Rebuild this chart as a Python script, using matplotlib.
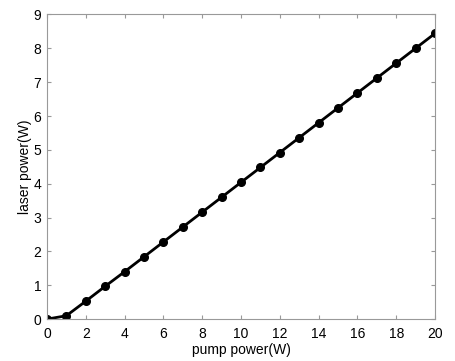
import numpy as np
from matplotlib import pyplot as plt

plt.rcParams["font.family"] = ["Liberation Sans", "DejaVu Sans"]

pump = list(range(0, 21))
laser = [0.0, 0.1, 0.53, 0.97, 1.40, 1.84, 2.28, 2.72, 3.16, 3.60, 4.04,
         4.48, 4.92, 5.36, 5.80, 6.24, 6.68, 7.12, 7.56, 8.00, 8.44]

fig = plt.figure(figsize=(4.56, 3.61), dpi=100)
ax = fig.add_axes([0.103, 0.116, 0.851, 0.844])

ax.plot(pump, laser, color="black", linewidth=2, marker="o", markersize=5.5)

ax.set_xlim(0, 20)
ax.set_ylim(0, 9)
ax.set_xticks(np.arange(0, 21, 2))
ax.set_yticks(np.arange(0, 10, 1))
ax.tick_params(direction="in", length=3, color="#999999", labelsize=10)
ax.tick_params(axis="x", pad=6)
ax.tick_params(axis="y", pad=4)
for s in ax.spines.values():
    s.set_color("#999999")
ax.tick_params(top=True, right=True)

ax.set_xlabel("pump power(W)", fontsize=10, labelpad=1)
ax.set_ylabel("laser power(W)", fontsize=10, labelpad=1)

fig.savefig("out.png", dpi=100)
